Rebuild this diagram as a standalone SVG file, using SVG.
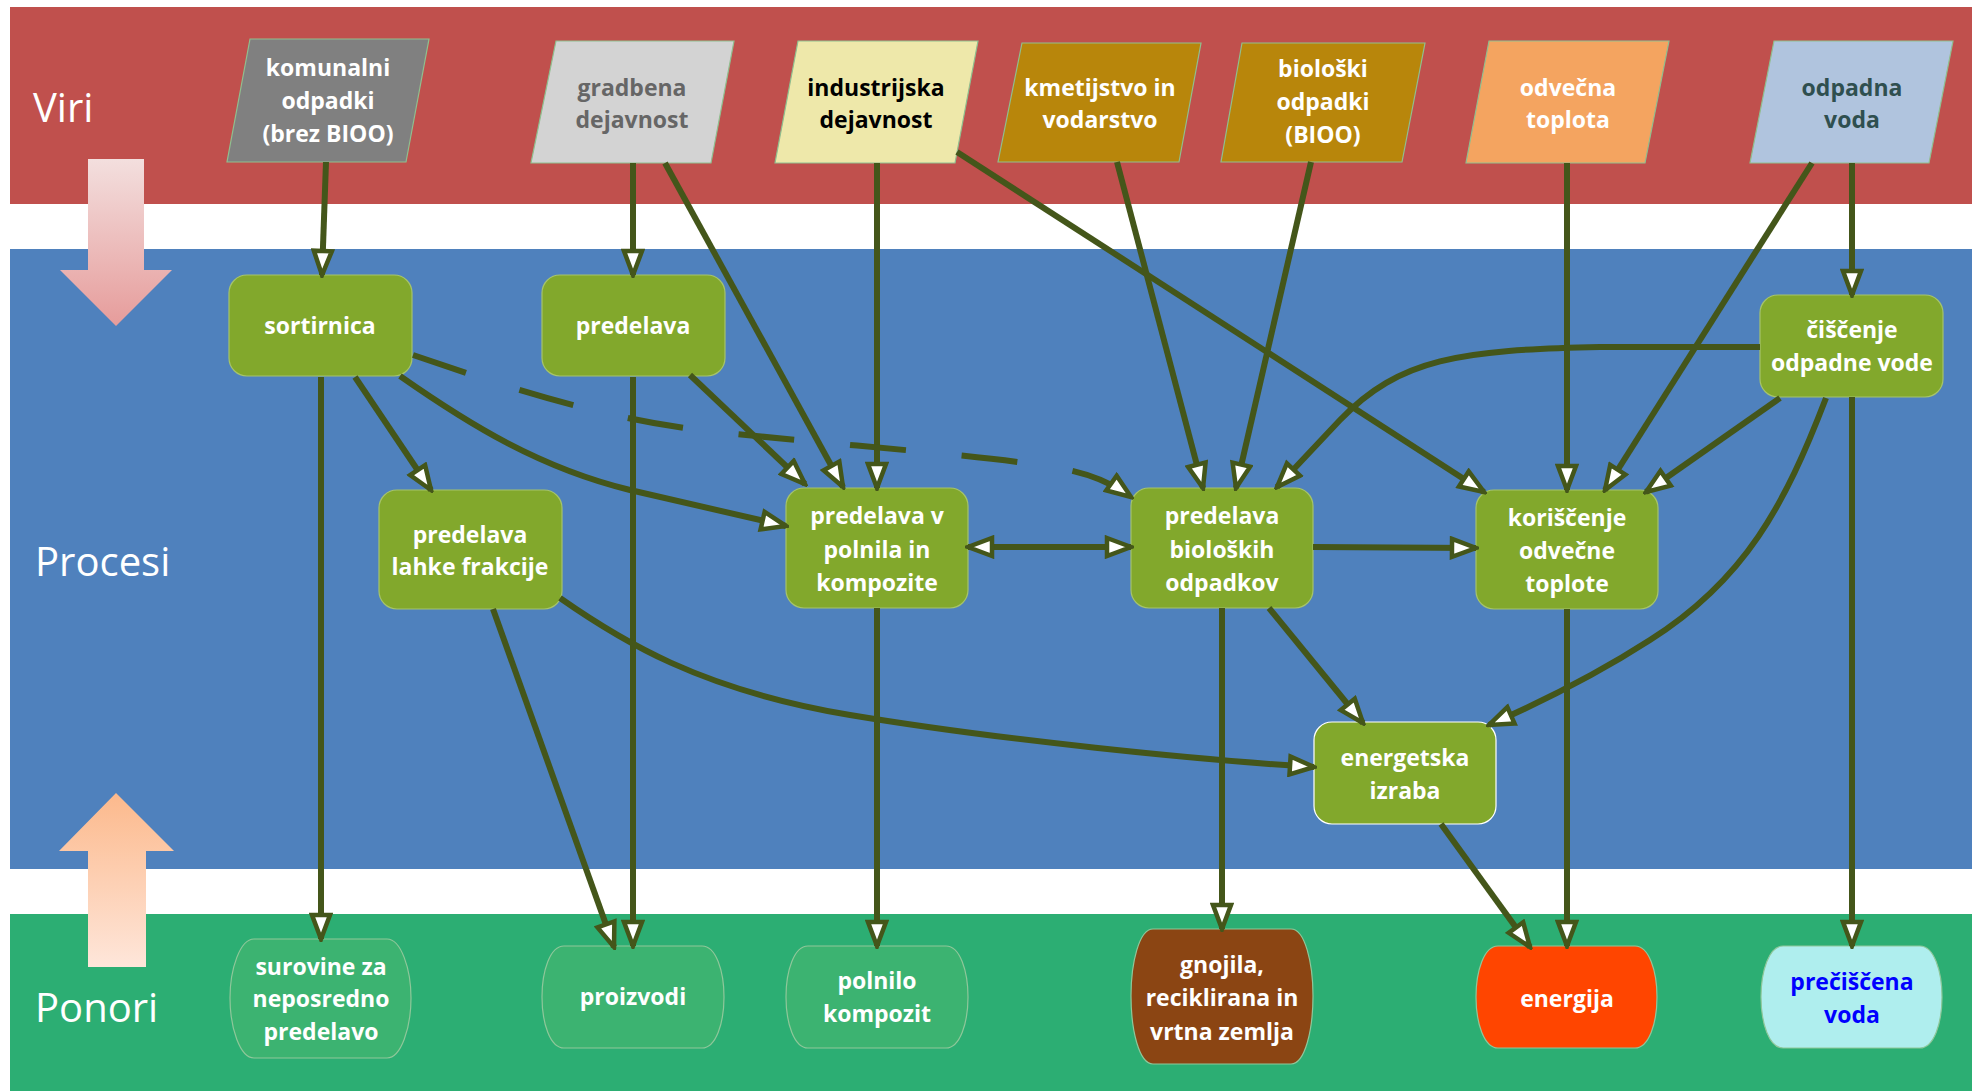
<svg xmlns="http://www.w3.org/2000/svg" width="1972" height="1091" viewBox="0 0 1972 1091">
<style>
.lbl{font-family:"Open Sans","Liberation Sans",sans-serif;font-size:40px;fill:#fff}
.t{font-family:"Open Sans","Liberation Sans",sans-serif;font-size:23px;font-weight:bold;text-anchor:middle}
.w{fill:#fff}
.proc{fill:#82a82c;stroke:#a6c46a;stroke-width:1.2}
.src{stroke:#8fbf8f;stroke-width:1.2}
.sink{stroke:#8fc79a;stroke-width:1.2}
.c{fill:none;stroke:#44561a;stroke-width:6;marker-end:url(#ah)}
</style>
<defs>
<marker id="ah" viewBox="0 0 30 24" refX="27" refY="12" markerWidth="30" markerHeight="24" markerUnits="userSpaceOnUse" orient="auto-start-reverse">
<path d="M3,3 L27,12 L3,21 Z" fill="#fff" stroke="#44561a" stroke-width="4.5" stroke-linejoin="miter"/>
</marker>
<linearGradient id="gpink" x1="0" y1="0" x2="0" y2="1">
<stop offset="0" stop-color="#f3dfde"/><stop offset="1" stop-color="#e69c9b"/>
</linearGradient>
<linearGradient id="gpeach" x1="0" y1="0" x2="0" y2="1">
<stop offset="0" stop-color="#fcb98c"/><stop offset="1" stop-color="#fee6da"/>
</linearGradient>
</defs>
<rect width="1972" height="1091" fill="#fff"/>
<g id="bands">
<rect x="10" y="7" width="1962" height="197" fill="#c0504d"/>
<rect x="10" y="249" width="1962" height="620" fill="#4f81bd"/>
<rect x="10" y="914" width="1962" height="177" fill="#2cae73"/>
<polygon points="88,159 144,159 144,270 172,270 116,326 60,270 88,270" fill="url(#gpink)"/>
<polygon points="116,793 174,851 146,851 146,967 88,967 88,851 59,851" fill="url(#gpeach)"/>
<text class="lbl" x="33" y="122">Viri</text>
<text class="lbl" x="35" y="576">Procesi</text>
<text class="lbl" x="35" y="1022">Ponori</text>
</g>

<g id="src-komunalni"><polygon class="src" points="250,39 429,39 406,162 227,162" fill="#808080"/>
<text class="t w" x="328" y="76">komunalni</text><text class="t w" x="328" y="109">odpadki</text><text class="t w" x="328" y="142">(brez BIOO)</text></g>
<g id="src-gradbena"><polygon class="src" points="556,41 734,41 711,163 531,163" fill="#d3d3d3"/>
<text class="t" fill="#666" x="632" y="96">gradbena</text><text class="t" fill="#666" x="632" y="128">dejavnost</text></g>
<g id="src-industrijska"><polygon class="src" points="798,41 978,41 955,163 775,163" fill="#eee8aa"/>
<text class="t" fill="#000" x="876" y="96">industrijska</text><text class="t" fill="#000" x="876" y="128">dejavnost</text></g>
<g id="src-kmetijstvo"><polygon class="src" points="1022,43 1201,43 1179,162 998,162" fill="#b8860b"/>
<text class="t w" x="1100" y="96">kmetijstvo in</text><text class="t w" x="1100" y="128">vodarstvo</text></g>
<g id="src-bioo"><polygon class="src" points="1242,43 1425,43 1402,162 1221,162" fill="#b8860b"/>
<text class="t w" x="1323" y="77">biološki</text><text class="t w" x="1323" y="110">odpadki</text><text class="t w" x="1323" y="143">(BIOO)</text></g>
<g id="src-toplota"><polygon class="src" points="1489,41 1669,41 1645,163 1466,163" fill="#f4a460"/>
<text class="t w" x="1568" y="96">odvečna</text><text class="t w" x="1568" y="128">toplota</text></g>
<g id="src-voda"><polygon class="src" points="1774,41 1953,41 1929,163 1750,163" fill="#b0c4de"/>
<text class="t" fill="#2f4f4f" x="1852" y="96">odpadna</text><text class="t" fill="#2f4f4f" x="1852" y="128">voda</text></g>

<g id="p-sortirnica"><rect class="proc" x="229" y="275" width="183" height="101" rx="18"/><text class="t w" x="320" y="334">sortirnica</text></g>
<g id="p-predelava"><rect class="proc" x="542" y="275" width="183" height="101" rx="18"/><text class="t w" x="633" y="334">predelava</text></g>
<g id="p-ciscenje"><rect class="proc" x="1760" y="295" width="183" height="102" rx="18"/><text class="t w" x="1852" y="338">čiščenje</text><text class="t w" x="1852" y="371">odpadne vode</text></g>
<g id="p-lahke"><rect class="proc" x="379" y="490" width="183" height="119" rx="18"/><text class="t w" x="470" y="543">predelava</text><text class="t w" x="470" y="575">lahke frakcije</text></g>
<g id="p-polnila"><rect class="proc" x="786" y="488" width="182" height="120" rx="18"/><text class="t w" x="877" y="524">predelava v</text><text class="t w" x="877" y="558">polnila in</text><text class="t w" x="877" y="591">kompozite</text></g>
<g id="p-bioloskih"><rect class="proc" x="1131" y="488" width="182" height="120" rx="18"/><text class="t w" x="1222" y="524">predelava</text><text class="t w" x="1222" y="558">bioloških</text><text class="t w" x="1222" y="591">odpadkov</text></g>
<g id="p-koriscenje"><rect class="proc" x="1476" y="490" width="182" height="119" rx="18"/><text class="t w" x="1567" y="526">koriščenje</text><text class="t w" x="1567" y="559">odvečne</text><text class="t w" x="1567" y="592">toplote</text></g>
<g id="p-energetska"><rect class="proc" x="1314" y="722" width="182" height="102" rx="18" style="stroke:#fff"/><text class="t w" x="1405" y="766">energetska</text><text class="t w" x="1405" y="799">izraba</text></g>

<g id="s-surovine"><path class="sink" fill="#3cb371" d="M254,939 H387 C401,939 411,969 411,998 C411,1028 401,1058 387,1058 H254 C240,1058 230,1028 230,998 C230,969 240,939 254,939 Z"/>
<text class="t w" x="321" y="975">surovine za</text><text class="t w" x="321" y="1007">neposredno</text><text class="t w" x="321" y="1040">predelavo</text></g>
<g id="s-proizvodi"><path class="sink" fill="#3cb371" d="M564,946 H702 C716,946 724,971 724,997 C724,1023 716,1048 702,1048 H564 C550,1048 542,1023 542,997 C542,971 550,946 564,946 Z"/>
<text class="t w" x="633" y="1005">proizvodi</text></g>
<g id="s-polnilo"><path class="sink" fill="#3cb371" d="M808,946 H946 C960,946 968,971 968,997 C968,1023 960,1048 946,1048 H808 C794,1048 786,1023 786,997 C786,971 794,946 808,946 Z"/>
<text class="t w" x="877" y="989">polnilo</text><text class="t w" x="877" y="1022">kompozit</text></g>
<g id="s-gnojila"><path class="sink" fill="#8b4513" d="M1153,929 H1291 C1305,929 1313,963 1313,996 C1313,1030 1305,1064 1291,1064 H1153 C1139,1064 1131,1030 1131,996 C1131,963 1139,929 1153,929 Z"/>
<text class="t w" x="1222" y="973">gnojila,</text><text class="t w" x="1222" y="1006">reciklirana in</text><text class="t w" x="1222" y="1040">vrtna zemlja</text></g>
<g id="s-energija"><path class="sink" fill="#ff4500" d="M1498,946 H1635 C1649,946 1657,971 1657,997 C1657,1023 1649,1048 1635,1048 H1498 C1484,1048 1476,1023 1476,997 C1476,971 1484,946 1498,946 Z"/>
<text class="t w" x="1567" y="1007">energija</text></g>
<g id="s-precis"><path class="sink" fill="#afeeee" d="M1783,946 H1920 C1934,946 1942,971 1942,997 C1942,1023 1934,1048 1920,1048 H1783 C1769,1048 1761,1023 1761,997 C1761,971 1769,946 1783,946 Z"/>
<text class="t" fill="#0000ff" x="1852" y="990">prečiščena</text><text class="t" fill="#0000ff" x="1852" y="1023">voda</text></g>

<g id="connectors">
<path class="c" d="M326,162 L322,275"/>
<path class="c" d="M633,163 L633,275"/>
<path class="c" d="M665,163 L843,487"/>
<path class="c" d="M877,163 L877,488"/>
<path class="c" d="M957,152 L1484,492"/>
<path class="c" d="M1117,162 L1203,488"/>
<path class="c" d="M1311,162 L1236,488"/>
<path class="c" d="M1567,163 L1567,490"/>
<path class="c" d="M1812,163 L1605,490"/>
<path class="c" d="M1852,163 L1852,295"/>
<path class="c" d="M355,377 L431,490"/>
<path class="c" d="M400,376 C470,425 540,468 630,490 L786,526"/>
<path class="c" stroke-dasharray="56 56" d="M413,355 C500,385 600,418 700,430 C800,442 950,452 1040,465 C1090,472 1110,482 1131,497"/>
<path class="c" d="M690,375 L805,484"/>
<path class="c" d="M633,377 L633,946"/>
<path class="c" d="M321,377 L321,939"/>
<path class="c" d="M493,609 L614,947"/>
<path class="c" d="M560,598 C620,640 700,690 850,715 S1200,760 1314,767"/>
<path class="c" style="marker-start:url(#ah)" d="M968,547 L1131,547"/>
<path class="c" d="M1313,547 L1476,548"/>
<path class="c" d="M1269,608 L1363,723"/>
<path class="c" d="M1222,608 L1222,929"/>
<path class="c" d="M877,608 L877,946"/>
<path class="c" d="M1567,609 L1567,946"/>
<path class="c" d="M1441,824 L1530,947"/>
<path class="c" d="M1852,397 L1852,946"/>
<path class="c" d="M1780,398 L1646,492"/>
<path class="c" d="M1826,398 C1785,505 1745,580 1650,640 Q1580,685 1489,725"/>
<path class="c" d="M1760,347 H1600 C1460,350 1400,358 1340,420 L1277,487"/>
</g>
</svg>
